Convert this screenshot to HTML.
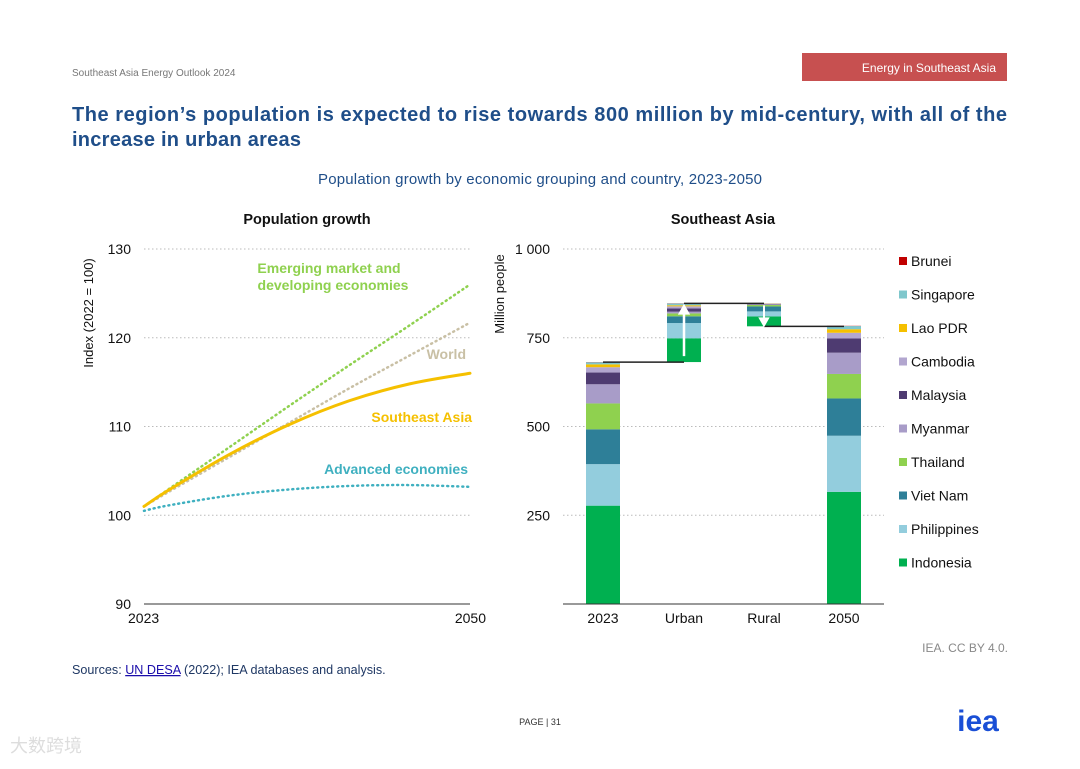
<!DOCTYPE html>
<html><head><meta charset="utf-8"><style>
body{margin:0;background:#fff;font-family:"Liberation Sans","Noto Sans CJK SC",sans-serif;}
svg text{font-family:"Liberation Sans","Noto Sans CJK SC",sans-serif;}
</style></head><body>
<svg id="s" width="1080" height="764" viewBox="0 0 1080 764" xmlns="http://www.w3.org/2000/svg">
<text x="72" y="76" font-size="10" fill="#777">Southeast Asia Energy Outlook 2024</text>
<rect x="802" y="53" width="205" height="28" fill="#c75050"/>
<text x="996" y="72" font-size="12" fill="#fff" text-anchor="end">Energy in Southeast Asia</text>
<text x="72" y="121" font-size="20" font-weight="bold" fill="#1f4e89" textLength="935" lengthAdjust="spacing">The region’s population is expected to rise towards 800 million by mid-century, with all of the</text>
<text x="72" y="146" font-size="20" font-weight="bold" fill="#1f4e89" textLength="229" lengthAdjust="spacing">increase in urban areas</text>
<text x="540" y="184" font-size="15" fill="#1f4e89" text-anchor="middle" textLength="444" lengthAdjust="spacing">Population growth by economic grouping and country, 2023-2050</text>
<text x="307" y="224" font-size="14.5" font-weight="bold" fill="#111" text-anchor="middle">Population growth</text>
<text x="723" y="224" font-size="14.5" font-weight="bold" fill="#111" text-anchor="middle">Southeast Asia</text>
<text transform="translate(93,313) rotate(-90)" font-size="13" fill="#111" text-anchor="middle">Index (2022 = 100)</text>
<text transform="translate(504,294) rotate(-90)" font-size="13" fill="#111" text-anchor="middle">Million people</text>
<g id="left"></g><g id="right"></g>
<text x="72" y="674" font-size="12.6" fill="#1f3864">Sources: <tspan fill="#1a0dab" text-decoration="underline">UN DESA</tspan> (2022); IEA databases and analysis.</text>
<text x="1008" y="652" font-size="12" fill="#888" text-anchor="end">IEA. CC BY 4.0.</text>
<text x="540" y="725" font-size="9" fill="#333" text-anchor="middle">PAGE | 31</text>
<text x="978" y="731" font-size="30" font-weight="bold" fill="#1a4fd6" text-anchor="middle">iea</text>
<text x="10" y="752" font-size="18" fill="#ddd">大数跨境</text>
</svg>
<script>
const years=[2023,2025,2030,2035,2040,2045,2050];
const emde=[101,102.9,107.6,112.3,116.9,121.4,126];
const world=[101,102.6,106.5,110.4,114.3,118,121.7];
const sea=[101,102.8,106.8,110.2,112.9,114.8,116];
const adv=[100.5,101.1,102.2,102.9,103.3,103.4,103.2];
const leftTicks=[90,100,110,120,130];
const barCats=['2023','Urban','Rural','2050'];
const countries=['Indonesia','Philippines','Viet Nam','Thailand','Myanmar','Malaysia','Cambodia','Lao PDR','Singapore','Brunei'];
const colors=['#00b050','#93cddd','#2e7f98','#8fd14f','#a89cc8','#4e3b71','#b2a6cf','#f5c000','#7fc7cc','#c00000'];
const v2023=[277,117,98,73,54,33,15,8,6,0.5];
const vUrban=[67,43,19,8,5,9,6,3,5,0.5];
const vRural=[28,14,14,4,2,1,1,0.5,0.2,0.1];
const v2050=[316,158,105,69,60,40,16,10,9,0.6];
const rightTicks=[250,500,750,1000];
const NS='http://www.w3.org/2000/svg';
function mk(p,t,a){const e=document.createElementNS(NS,t);for(const k in a)e.setAttribute(k,a[k]);p.appendChild(e);return e;}
const L=document.getElementById('left'),R=document.getElementById('right');
const lx=y=>144+(y-2023)/(27)*326, ly=v=>604-(v-90)/40*355;
leftTicks.forEach(t=>{
 if(t>90){const g=mk(L,'line',{x1:144,x2:470,y1:ly(t),y2:ly(t),stroke:'#bbb','stroke-dasharray':'1.5 2.5'});
 
 }
 const tx=mk(L,'text',{x:131,y:ly(t)+5,'font-size':14,fill:'#111','text-anchor':'end'});tx.textContent=t;
 
 
});
const ax=mk(L,'line',{x1:144,x2:470,y1:604,y2:604,stroke:'#333'});


[[2023,'start'],[2050,'end']].forEach(([y,an])=>{const t=mk(L,'text',{x:lx(y)+(an=='start'?-16:16),y:623,'font-size':14,fill:'#111','text-anchor':an});t.textContent=y;
 
 });
function path(vals){let d='';const pts=years.map((y,i)=>[lx(y),ly(vals[i])]);
 d='M'+pts[0];for(let i=1;i<pts.length;i++){const p0=pts[Math.max(0,i-2)],p1=pts[i-1],p2=pts[i],p3=pts[Math.min(pts.length-1,i+1)];
 d+=' C'+[p1[0]+(p2[0]-p0[0])/6,p1[1]+(p2[1]-p0[1])/6]+' '+[p2[0]-(p3[0]-p1[0])/6,p2[1]-(p3[1]-p1[1])/6]+' '+p2;}return d;}
[[emde,'#8fd14f','emde-line',1],[world,'#c9c0a5','world-line',1],[adv,'#3fb0c0','advanced-line',1],[sea,'#f5c000','sea-line',0]].forEach(([v,c,n,dot])=>{
 const p=mk(L,'path',{d:path(v),fill:'none',stroke:c,'stroke-width':dot?2.5:3,'stroke-dasharray':dot?'1 4':'none','stroke-linecap':'round'});
 
 
});
[['Emerging market and',329,273,'#8fd14f'],['developing economies',333,290,'#8fd14f'],['World',466,359,'#c9c0a5'],['Southeast Asia',472,422,'#f5c000'],['Advanced economies',468,474,'#3fb0c0']].forEach(([s,x,y,c],i)=>{
 const t=mk(L,'text',{x:x,y:y,'font-size':14,'font-weight':'bold',fill:c,'text-anchor':i<2?'middle':'end'});t.textContent=s;
 
 });
const ry=v=>604-v*0.355, bx=[603,684,764,844], bw=34;
rightTicks.forEach(t=>{const g=mk(R,'line',{x1:563,x2:884,y1:ry(t),y2:ry(t),stroke:'#bbb','stroke-dasharray':'1.5 2.5'});
 
 
 const tx=mk(R,'text',{x:550,y:ry(t)+5,'font-size':14,fill:'#111','text-anchor':'end'});tx.textContent=t==1000?'1 000':t;
 
 });
const sum=a=>a.reduce((x,y)=>x+y,0);
const tot23=sum(v2023),totU=tot23+sum(vUrban),tot50=sum(v2050);
function stack(i,vals,base,down){let b=down?base-sum(vals):base;
 vals.forEach((v,k)=>{const r=mk(R,'rect',{x:bx[i]-bw/2,y:ry(b+v),width:bw,height:Math.max(0,ry(b)-ry(b+v)),fill:colors[k]});
 
 b+=v;});}
stack(0,v2023,0);stack(1,vUrban,tot23);stack(2,vRural.slice(),totU,true);stack(3,v2050,0);
const totR=totU-sum(vRural);
[[0,1,tot23],[1,2,totU],[2,3,totR]].forEach(([a,b,v])=>{const l=mk(R,'line',{x1:bx[a],x2:bx[b],y1:ry(v),y2:ry(v),stroke:'#222','stroke-width':1.5});
 
 });
const a1=mk(R,'path',{d:`M${bx[1]} ${ry(tot23)-6}V${ry(totU)+8}M${bx[1]-4} ${ry(totU)+10}L${bx[1]} ${ry(totU)+3}L${bx[1]+4} ${ry(totU)+10}Z`,stroke:'#fff','stroke-width':2.5,fill:'#fff'});


const a2=mk(R,'path',{d:`M${bx[2]} ${ry(totU)+2}V${ry(totR)-6}M${bx[2]-4} ${ry(totR)-8}L${bx[2]} ${ry(totR)-1}L${bx[2]+4} ${ry(totR)-8}Z`,stroke:'#fff','stroke-width':2,fill:'#fff'});


const rax=mk(R,'line',{x1:563,x2:884,y1:604,y2:604,stroke:'#333'});


barCats.forEach((c,i)=>{const t=mk(R,'text',{x:bx[i],y:623,'font-size':14,fill:'#111','text-anchor':'middle'});t.textContent=c;
 
 });
countries.slice().reverse().forEach((c,j)=>{const k=countries.length-1-j,y=261+j*33.5;
 const r=mk(R,'rect',{x:899,y:y-4,width:8,height:8,fill:colors[k]});
 
 
 const t=mk(R,'text',{x:911,y:y+5,'font-size':14,fill:'#111'});t.textContent=c;
 
 });
</script>
</body></html>
